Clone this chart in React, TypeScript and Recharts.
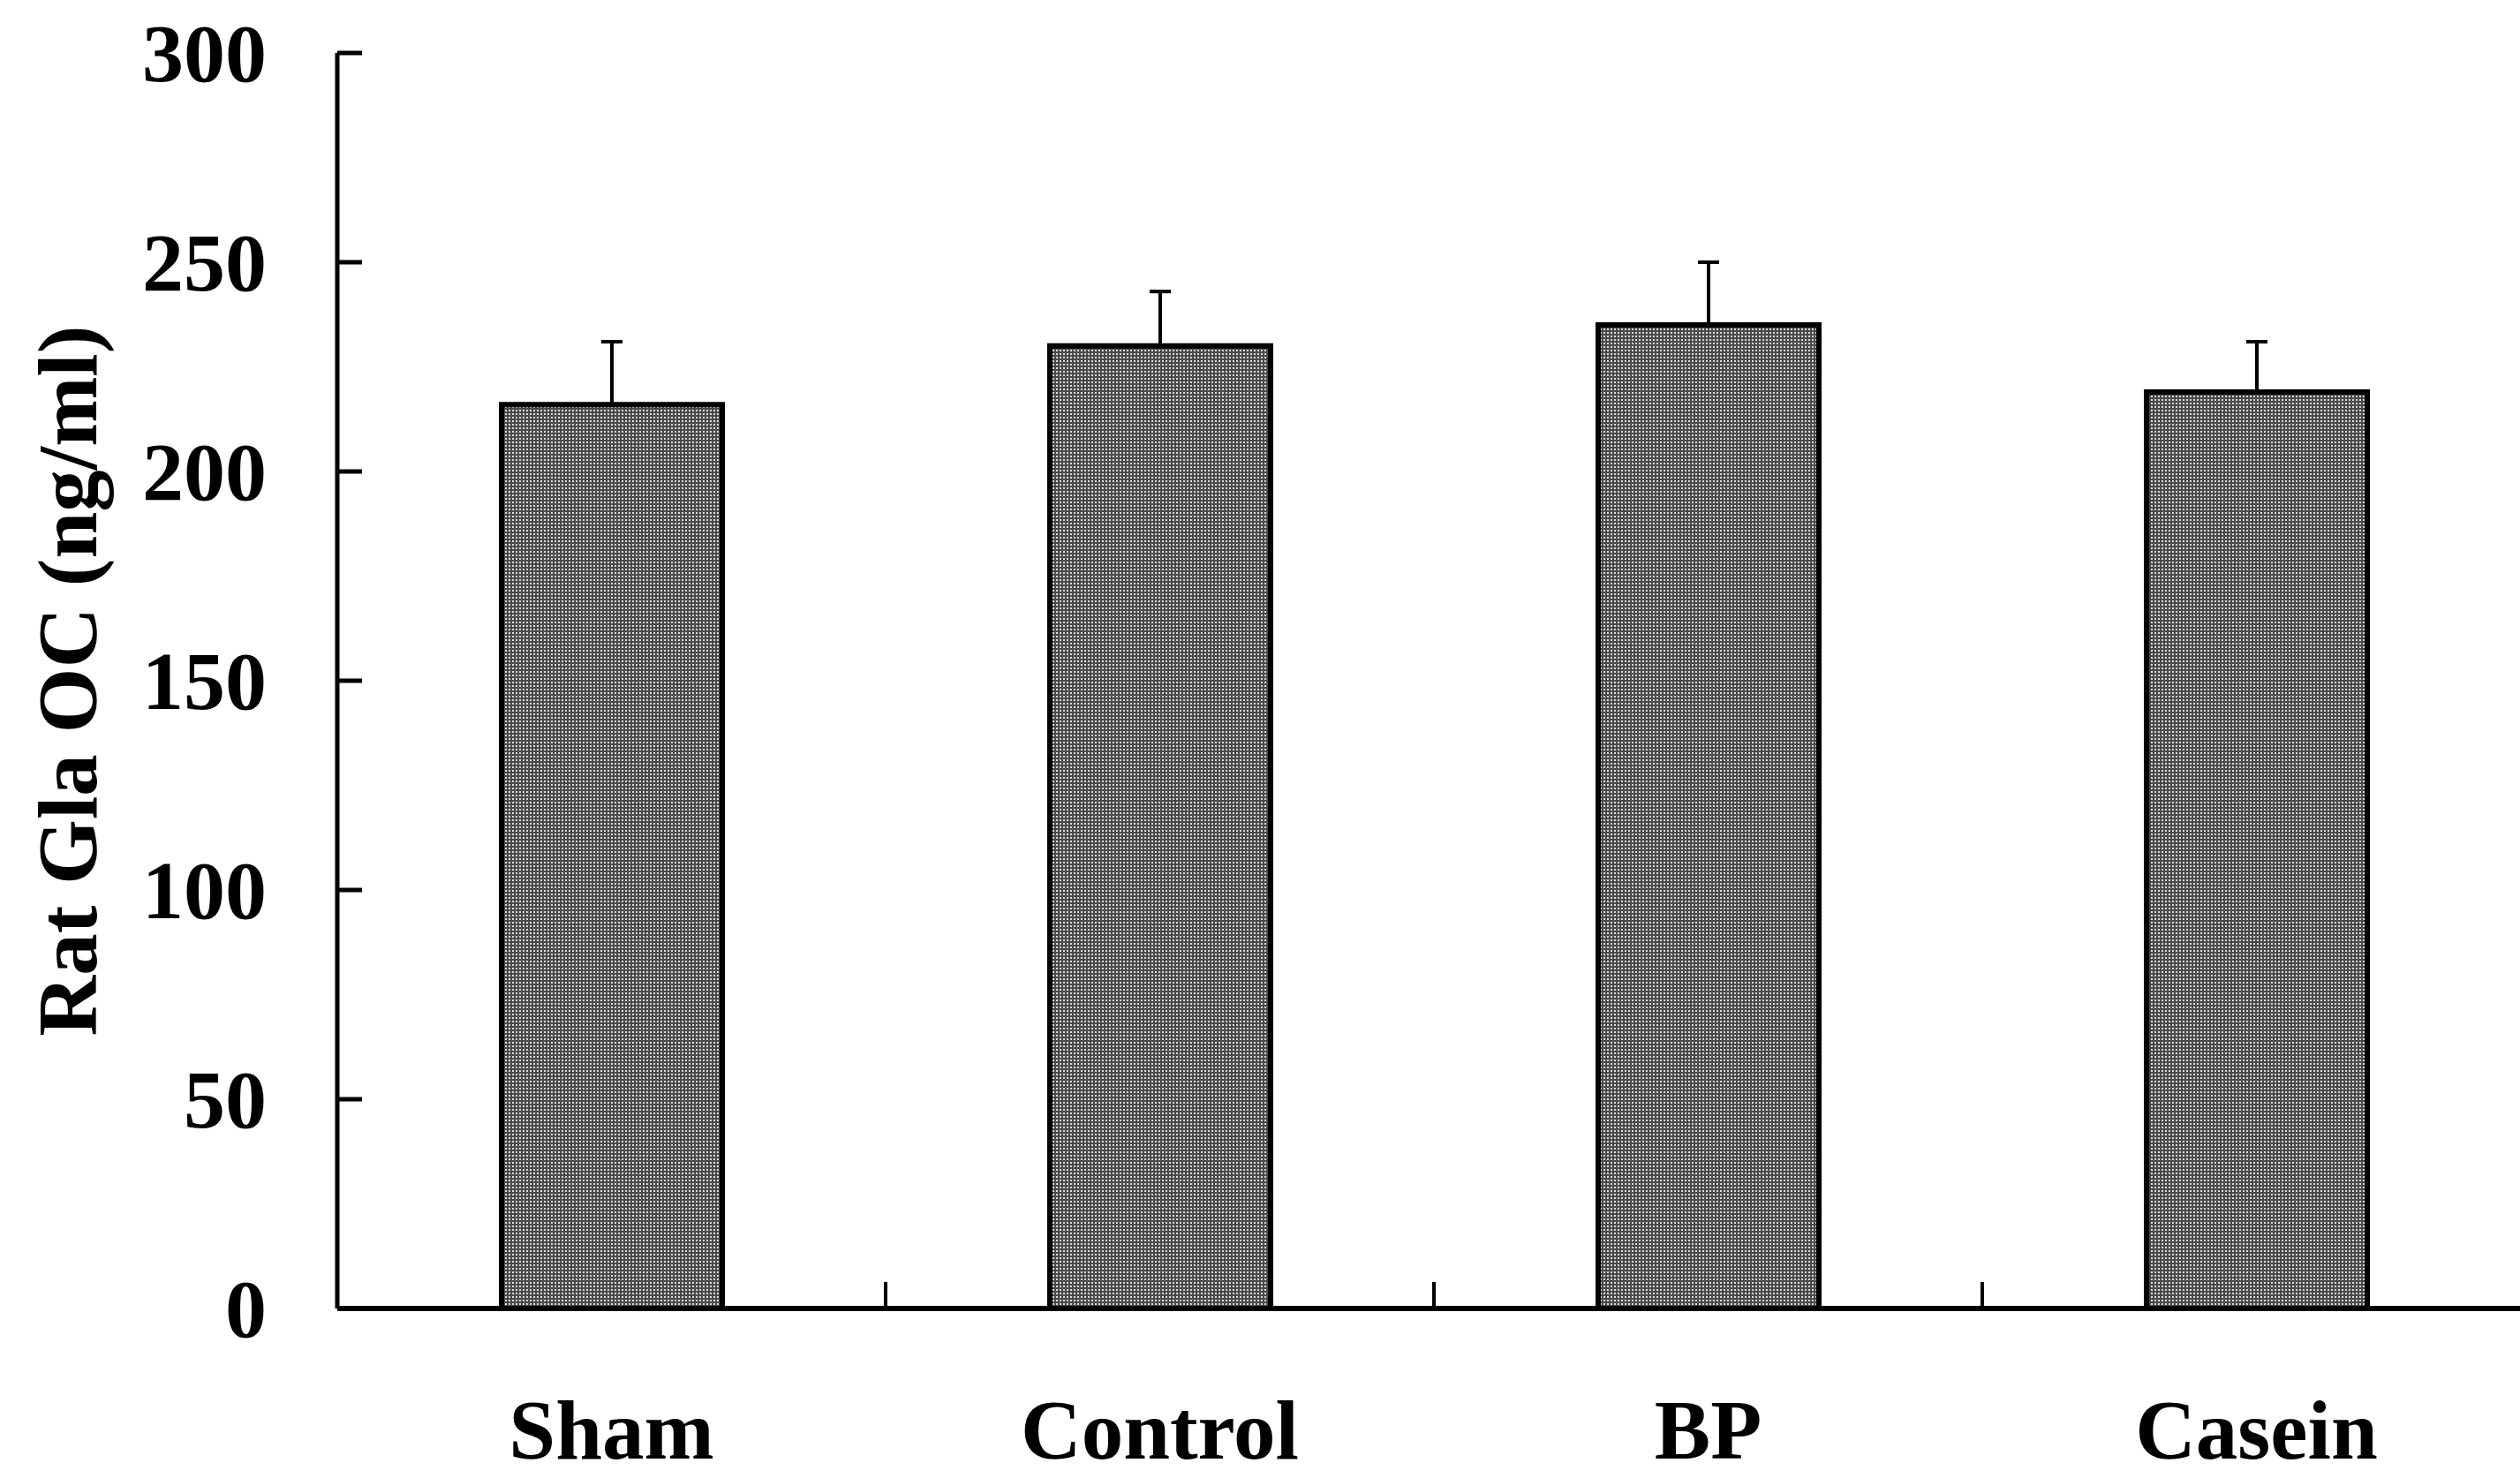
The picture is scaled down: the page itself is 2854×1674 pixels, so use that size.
import { Bar, BarChart, ErrorBar, XAxis, YAxis } from "recharts";

const groups = ["Sham", "Control", "BP", "Casein"];
const meanOC = [216, 230, 235, 219];
const semOC = [15, 13, 15, 12];
const yTicks = [0, 50, 100, 150, 200, 250, 300];

const data = groups.map((group, i) => ({
  group,
  oc: meanOC[i],
  err: [0, semOC[i]],
}));

const FONT = "'Liberation Serif', 'Times New Roman', serif";

function YTick({ x, y, payload }: any) {
  return (
    <g>
      <line x1={x} x2={x + 28} y1={y} y2={y} stroke="#000" strokeWidth={5} />
      <text
        x={x - 80}
        y={y}
        dy="0.34em"
        textAnchor="end"
        fontFamily={FONT}
        fontWeight="bold"
        fontSize={94}
        fill="#000"
      >
        {payload.value}
      </text>
    </g>
  );
}

// category label + small inward tick on the boundary before each group (except the first)
function GroupTick({ x, y, payload, index }: any) {
  const half = payload?.offset ?? 0;
  return (
    <g>
      {index > 0 && half > 0 && (
        <line
          x1={x - half}
          x2={x - half}
          y1={y}
          y2={y - 30}
          stroke="#000"
          strokeWidth={4}
        />
      )}
      <text
        x={x}
        y={y + 170}
        textAnchor="middle"
        fontFamily={FONT}
        fontWeight="bold"
        fontSize={95}
        fill="#000"
      >
        {payload.value}
      </text>
    </g>
  );
}

function YLabel({ viewBox }: any) {
  const cx = viewBox.x + 76;
  const cy = viewBox.y + viewBox.height / 2;
  return (
    <text
      x={cx}
      y={cy}
      dy="0.35em"
      transform={`rotate(-90, ${cx}, ${cy})`}
      textAnchor="middle"
      fontFamily={FONT}
      fontWeight="bold"
      fontSize={95}
      fill="#000"
    >
      Rat Gla OC (ng/ml)
    </text>
  );
}

export default function App() {
  return (
    <div>
      <style>{`body{margin:0;overflow:hidden;background:#fff}`}</style>
      <BarChart
        width={2870}
        height={1674}
        data={data}
        margin={{ top: 60, right: 4, bottom: 0, left: 0 }}
      >
        <defs>
          <pattern id="stipple" width="4" height="4" patternUnits="userSpaceOnUse">
            <rect width="4" height="4" fill="#4a4a4a" />
            <rect width="2" height="2" fill="#d8d8d8" />
          </pattern>
        </defs>
        <XAxis
          dataKey="group"
          height={192}
          axisLine={{ stroke: "#000", strokeWidth: 6 }}
          tickLine={false}
          tickSize={0}
          tickMargin={0}
          tick={<GroupTick />}
          interval={0}
        />
        <YAxis
          width={382}
          domain={[0, 300]}
          ticks={yTicks}
          axisLine={{ stroke: "#000", strokeWidth: 5 }}
          tickLine={false}
          tickSize={0}
          tickMargin={0}
          tick={<YTick />}
          label={<YLabel />}
        />
        <Bar
          dataKey="oc"
          barSize={250}
          fill="url(#stipple)"
          stroke="#000"
          strokeWidth={6}
          isAnimationActive={false}
        >
          <ErrorBar
            dataKey="err"
            direction="y"
            width={12}
            stroke="#000"
            strokeWidth={4}
            isAnimationActive={false}
          />
        </Bar>
      </BarChart>
    </div>
  );
}
